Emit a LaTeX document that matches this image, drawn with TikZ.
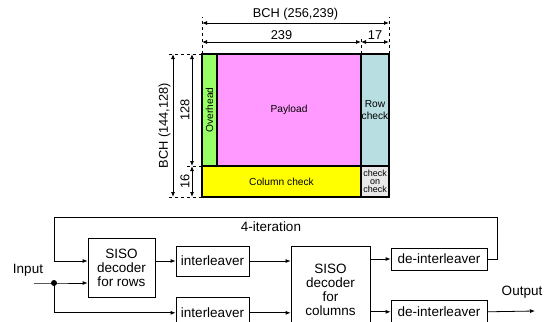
\documentclass[tikz,border=0pt]{standalone}
\usepackage{fontspec}
\setmainfont{Liberation Sans}
\usetikzlibrary{positioning, arrows.meta}
\definecolor{ohgreen}{RGB}{153,255,102}
\definecolor{plmagenta}{RGB}{255,153,255}
\definecolor{rcblue}{RGB}{184,222,226}
\definecolor{ccyellow}{RGB}{255,255,0}
\definecolor{cocgrey}{RGB}{232,232,232}

\begin{document}
\begin{tikzpicture}[x=1pt, y=-1pt, >={Latex[length=5pt,width=4pt]},
  field/.style={rectangle, draw=black, line width=1.1pt, inner sep=0pt, outer sep=0pt, align=center, font=\fontsize{10.2}{11.5}\selectfont},
  block/.style={rectangle, draw=black, line width=0.8pt, inner sep=2pt, align=center, font=\fontsize{13.5}{14}\selectfont},
  dimline/.style={<->, line width=0.8pt},
  extline/.style={dashed, line width=0.8pt},
  flow/.style={->, line width=0.8pt},
  dimlabel/.style={font=\fontsize{12.8}{13}\selectfont, inner sep=2pt},
  sig/.style={font=\fontsize{13.5}{14}\selectfont}]
%
\useasboundingbox (0,0) rectangle (553,321);
\clip (0,0) rectangle (553,321);

%help grid
%\draw[help lines, step=10] (0,0) grid (553,321);

%%% BCH product code frame
\node [field, fill=ohgreen, minimum width=15pt, minimum height=112pt, anchor=north west] (overhead) at (202,54) {\rotatebox{90}{Overhead}};
\node [field, fill=plmagenta, minimum width=144pt, minimum height=112pt, right=0pt of overhead] (payload) {Payload};
\node [field, fill=rcblue, minimum width=28pt, minimum height=112pt, right=0pt of payload] (rowchk) {Row\\check};
\node [field, fill=ccyellow, minimum width=159pt, minimum height=31pt, anchor=north west] (colchk) at (overhead.south west) {Column check};
\node [field, fill=cocgrey, minimum width=28pt, minimum height=31pt, right=0pt of colchk, font=\fontsize{9}{7.8}\selectfont] (chkchk) {check\\on\\check};

%%% dimensions
\draw [extline] (overhead.north west) -- ++(0,-37);
\draw [extline] (rowchk.north east) -- ++(0,-37);
\draw [extline] (rowchk.north west) -- ++(0,-17);
\draw [extline] (overhead.north west) -- ++(-34,0);
\draw [extline] (colchk.north west) -- ++(-15,0);
\draw [extline] (colchk.south west) -- ++(-34,0);

\draw [dimline] ([yshift=31pt]overhead.north west) -- node[above, dimlabel] (bchrow) {BCH (256,239)} ([yshift=31pt]rowchk.north east);
\draw [dimline] ([yshift=12pt]overhead.north west) -- node[above, dimlabel] (dimpay) {239} ([yshift=12pt]payload.north east);
\draw [dimline] ([yshift=12pt]rowchk.north west) -- node[above, dimlabel] (dimrow) {17} ([yshift=12pt]rowchk.north east);

\draw [dimline] ([xshift=-29pt]colchk.south west) -- node[above, sloped, dimlabel] (bchcol) {BCH (144,128)} ([xshift=-29pt]overhead.north west);
\draw [dimline] ([xshift=-10pt]colchk.north west) -- node[above, sloped, dimlabel] (diminfo) {128} ([xshift=-10pt]overhead.north west);
\draw [dimline] ([xshift=-10pt]colchk.south west) -- node[above, sloped, dimlabel] (dimchk) {16} ([xshift=-10pt]colchk.north west);

%%% turbo product decoder
\node [block, minimum width=67pt, minimum height=59pt] (rowdec) at (121.5,267.5) {SISO\\decoder\\for rows};
\node [block, minimum width=73pt, minimum height=30pt] (il1) at (212.5,261) {interleaver};
\node [block, minimum width=73pt, minimum height=30pt, below=21pt of il1] (il2) {interleaver};
\node [block, minimum width=79pt, minimum height=88pt] (coldec) at (330.5,290) {SISO\\decoder\\for\\columns};
\node [block, minimum width=96pt, minimum height=22pt] (dil1) at (439,259) {de-interleaver};
\node [block, minimum width=96pt, minimum height=22pt, below=30pt of dil1] (dil2) {de-interleaver};

\node [sig] (input) at (28,270) {Input};
\node [sig] (output) at (522,292) {Output};
\node [sig] (iter) at (271,227) {4-iteration};

\node [circle, fill=black, inner sep=0pt, minimum size=6pt] (split) at (54,283) {};
\coordinate (in) at (34,283);
\coordinate (out) at (535,311);
\coordinate (fbright) at (497,217);
\coordinate (fbleft) at (54,217);

%%% connections, arrows
\draw [flow] (in) -- (split.center) -- (rowdec.west |- split);
\draw [flow] (split.center) |- (il2.west);
\draw [flow] (rowdec.east |- il1.west) -- (il1.west);
\draw [flow] (il1.east) -- (coldec.west |- il1.east);
\draw [flow] (il2.east) -- (coldec.west |- il2.east);
\draw [flow] (coldec.east |- dil1.west) -- (dil1.west);
\draw [flow] (coldec.east |- dil2.west) -- (dil2.west);
\draw [flow] (dil2.east) -- (out);
\draw [flow] (dil1.east) -| (fbright) -- (fbleft) |- (rowdec.west |- il1.west);

\end{tikzpicture}
\end{document}
